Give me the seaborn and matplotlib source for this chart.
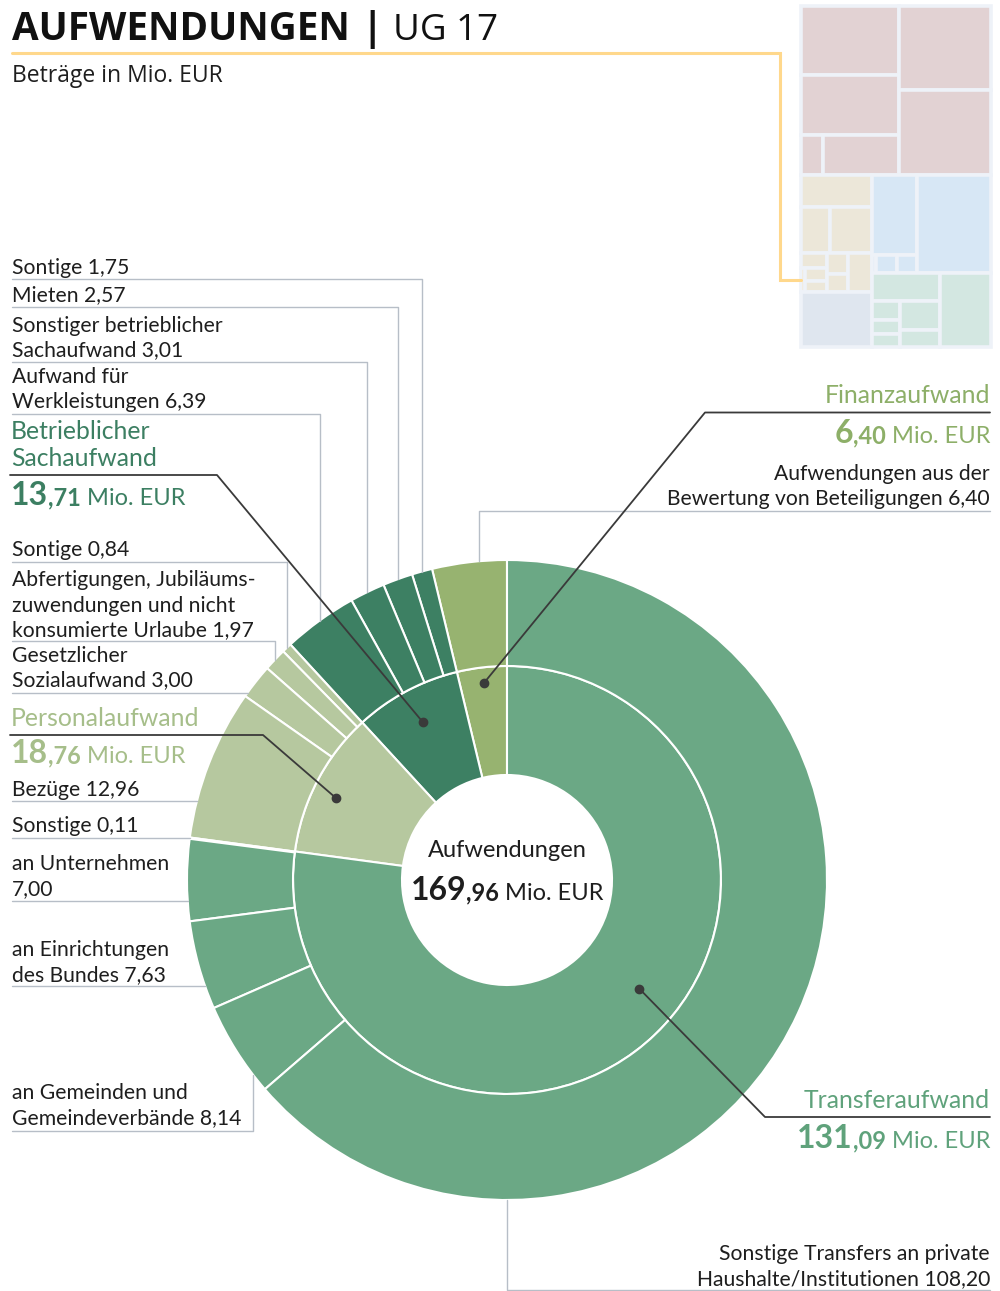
import numpy as np
import matplotlib
matplotlib.use("Agg")
import matplotlib.pyplot as plt
import seaborn as sns
from matplotlib.patches import Rectangle

sns.set_theme(style="white")
FONT = ["Lato", "DejaVu Sans"]
plt.rcParams["font.family"] = FONT

# ---------------- data ----------------
categories = ["Finanzaufwand", "Betrieblicher\nSachaufwand", "Personalaufwand", "Transferaufwand"]
category_values = [6.40, 13.71, 18.76, 131.09]
total_value = 169.96

sub_labels = [
    "Aufwendungen aus der\nBewertung von Beteiligungen {}",
    "Sontige {}", "Mieten {}", "Sonstiger betrieblicher\nSachaufwand {}", "Aufwand für\nWerkleistungen {}",
    "Sontige {}", "Abfertigungen, Jubiläums-\nzuwendungen und nicht\nkonsumierte Urlaube {}",
    "Gesetzlicher\nSozialaufwand {}", "Bezüge {}",
    "Sonstige {}", "an Unternehmen\n{}", "an Einrichtungen\ndes Bundes {}",
    "an Gemeinden und\nGemeindeverbände {}", "Sonstige Transfers an private\nHaushalte/Institutionen {}",
]
sub_values = [6.40, 1.75, 2.57, 3.01, 6.39, 0.84, 1.97, 3.00, 12.96, 0.11, 7.00, 7.63, 8.14, 108.20]
sub_category = [0, 1, 1, 1, 1, 2, 2, 2, 2, 3, 3, 3, 3, 3]

# overview treemap of all budget chapters (cell values), UG 17 marked "hl"
tm_g1 = ("h", [("v", [6762, 5880, ("h", [880, 3040])]), ("v", [7728, 7820])])
tm_g2 = ("v", [2256, ("h", [1334, 1909]),
               ("h", [("v", [383, ("h", [("hl", 96), ("v", [280, 237])])]), ("v", [441, 378]), 936])])
tm_g3 = ("h", [("v", [3640, ("h", [81, 369, 369])]), 7252])
tm_g4 = ("h", [("v", [1918, ("h", [("v", [542, 399, 371]), ("v", [1160, 680])])]), 3774])
tm_g5 = 3878
tm_colors = ["#E2D2D3", "#ECE7D9", "#D7E7F5", "#D3E7E1", "#DFE6EF"]

# ---------------- style ----------------
cat_colors = ["#97B370", "#3D8063", "#B6C89F", "#6BA885"]
cat_text = ["#8DAF68", "#3C7F62", "#A6BE8A", "#5FA27B"]
DARK = "#1E1E1E"
LINE = "#3A3A3A"
GREY = "#B7BEC7"
YELLOW = "#FFD88C"

CX, CY = 507, 880
R_OUT, R_MID, R_IN = 320, 214, 105

fig = plt.figure(figsize=(10, 12.91), dpi=100)
ax = fig.add_axes([0, 0, 1, 1])


def de(v):
    return f"{v:.2f}".replace(".", ",")


def text_run(x, y, parts, ha="left", family=None):
    rend = fig.canvas.get_renderer()
    items = []
    for txt, size, weight, color, gap in parts:
        t = ax.text(0, y, txt, fontsize=size, fontweight=weight, color=color,
                    va="baseline", ha="left", family=family or FONT)
        items.append((t, t.get_window_extent(rend).width, gap))
    total = sum(w + g for _, w, g in items)
    cur = {"left": x, "right": x - total, "center": x - total / 2}[ha]
    for t, w, g in items:
        cur += g
        t.set_x(cur)
        cur += w


# ---------------- donut ----------------
wp = dict(edgecolor="white", linewidth=1.5)
inner, _ = ax.pie(category_values, radius=R_MID, center=(CX, CY), startangle=-90,
                  counterclock=False, colors=cat_colors,
                  wedgeprops=dict(width=R_MID - R_IN, **wp))
outer, _ = ax.pie(sub_values, radius=R_OUT, center=(CX, CY), startangle=-90,
                  counterclock=False, colors=[cat_colors[c] for c in sub_category],
                  wedgeprops=dict(width=R_OUT - R_MID, **wp))


def polar(wedge, r, frac=0.5):
    a = np.deg2rad(wedge.theta2 - frac * (wedge.theta2 - wedge.theta1))
    return CX + r * np.cos(a), CY + r * np.sin(a)


def circle_y(x, lower):
    d = np.sqrt(max(R_OUT ** 2 - (x - CX) ** 2, 0))
    return CY + d if lower else CY - d


# outer labels: side, first baseline, underline y, leader
sub_layout = [
    ("R", 480, 510.5, ("x", 479)),
    ("L", 273.5, 279, ("mid",)),
    ("L", 301.5, 307, ("mid",)),
    ("L", 331.5, 361.5, ("mid",)),
    ("L", 383, 413.5, ("mid",)),
    ("L", 556.5, 561.5, ("mid",)),
    ("L", 586.5, 641, ("mid",)),
    ("L", 661.5, 692.5, ("h",)),
    ("L", 796.5, 801, ("h",)),
    ("L", 832.5, 837.5, ("h",)),
    ("L", 870.5, 901, ("h",)),
    ("L", 956, 985.5, ("h",)),
    ("L", 1099, 1130.5, ("x", 253)),
    ("R", 1260, 1290, ("x", CX)),
]

for i, (side, y0, yu, lead) in enumerate(sub_layout):
    lines = sub_labels[i].format(de(sub_values[i])).split("\n")
    xt = 12 if side == "L" else 990
    for k, ln in enumerate(lines):
        ax.text(xt, y0 + 25 * k, ln, fontsize=15.2, color=DARK, va="baseline",
                ha="left" if side == "L" else "right")
    lower = yu > CY
    if lead[0] == "h":
        xe = CX - np.sqrt(R_OUT ** 2 - (yu - CY) ** 2)
        ax.plot([xt, xe], [yu, yu], color=GREY, lw=1.0, zorder=1)
        continue
    if lead[0] == "mid":
        xe, ye = polar(outer[i], R_OUT)
    else:
        xe = lead[1]
        ye = circle_y(xe, lower)
    ax.plot([xt, xe, xe], [yu, yu, ye], color=GREY, lw=1.0, zorder=1)

# category labels: side, name baselines, underline y, elbow x, number baseline, dot radius, dot frac
cat_layout = [
    ("R", [403], 412.5, 705, 443, 198, 0.5),
    ("L", [439, 466.5], 475, 217, 505, 179, 0.5),
    ("L", [726], 735, 263, 763, 189, 0.55),
    ("R", [1108], 1117, 765, 1148, 171, 0.534),
]

for i, (side, ys, yu, xel, yn, rd, fr) in enumerate(cat_layout):
    xt = 11 if side == "L" else 990
    ha = "left" if side == "L" else "right"
    for ln, yy in zip(categories[i].split("\n"), ys):
        ax.text(xt, yy, ln, fontsize=17.8, color=cat_text[i], va="baseline", ha=ha)
    ip, fp = de(category_values[i]).split(",")
    text_run(xt, yn, [(ip, 23, "bold", cat_text[i], 0),
                      ("," + fp, 17, "bold", cat_text[i], 0),
                      ("Mio. EUR", 17, "normal", cat_text[i], 6)], ha=ha)
    dx, dy = polar(inner[i], rd, fr)
    x0 = 10 if side == "L" else 990
    ax.plot([x0, xel, dx], [yu, yu, dy], color=LINE, lw=1.3, zorder=5)
    ax.plot(dx, dy, "o", ms=6, color=LINE, zorder=6)

# centre
ax.text(CX, 857, "Aufwendungen", fontsize=17, color=DARK, ha="center", va="baseline")
ip, fp = de(total_value).split(",")
text_run(CX, 900, [(ip, 23, "bold", DARK, 0), ("," + fp, 17, "bold", DARK, 0),
                   ("Mio. EUR", 17, "normal", DARK, 6)], ha="center")

# ---------------- title ----------------
text_run(12, 40, [("AUFWENDUNGEN", 27.8, "bold", "#111111", 0),
                  ("|", 27.8, "bold", "#111111", 11),
                  ("UG 17", 26.5, "normal", "#111111", 11)],
         family=["Open Sans", "DejaVu Sans"])
ax.text(12, 82, "Beträge in Mio. EUR", fontsize=16.5, color=DARK, va="baseline",
        family=["Open Sans", "DejaVu Sans"])

# ---------------- treemap ----------------
TM = (801, 6, 991, 347)
hl_box = []


def node_sum(n):
    if isinstance(n, (int, float)):
        return n
    if n[0] == "hl":
        return n[1]
    return sum(node_sum(c) for c in n[1])


def draw_tm(n, x0, y0, x1, y1, color):
    if isinstance(n, (int, float)) or n[0] == "hl":
        is_hl = not isinstance(n, (int, float))
        ax.add_patch(Rectangle((x0, y0), x1 - x0, y1 - y0,
                               facecolor=YELLOW if is_hl else color,
                               edgecolor="#EEF2F8", lw=2.6, zorder=2))
        if is_hl:
            hl_box.append((x0, y0, x1, y1))
        return
    tot = node_sum(n)
    pos = 0
    for c in n[1]:
        s = node_sum(c) / tot
        if n[0] == "h":
            a, b = x0 + pos * (x1 - x0), x0 + (pos + s) * (x1 - x0)
            draw_tm(c, a, y0, b, y1, color)
        else:
            a, b = y0 + pos * (y1 - y0), y0 + (pos + s) * (y1 - y0)
            draw_tm(c, x0, a, x1, b, color)
        pos += s


top = node_sum(tm_g1)
left_b = node_sum(tm_g2) + tm_g5
right_b = node_sum(tm_g3) + node_sum(tm_g4)
grand = top + left_b + right_b
ysplit = TM[1] + (TM[3] - TM[1]) * top / grand
xsplit = TM[0] + (TM[2] - TM[0]) * left_b / (left_b + right_b)
y2 = ysplit + (TM[3] - ysplit) * node_sum(tm_g2) / left_b
y3 = ysplit + (TM[3] - ysplit) * node_sum(tm_g3) / right_b
draw_tm(tm_g1, TM[0], TM[1], TM[2], ysplit, tm_colors[0])
draw_tm(tm_g2, TM[0], ysplit, xsplit, y2, tm_colors[1])
draw_tm(tm_g5, TM[0], y2, xsplit, TM[3], tm_colors[4])
draw_tm(tm_g3, xsplit, ysplit, TM[2], y3, tm_colors[2])
draw_tm(tm_g4, xsplit, y3, TM[2], TM[3], tm_colors[3])

hx0, hy0, hx1, hy1 = hl_box[0]
ax.plot([12, 780, 780, hx0], [53, 53, (hy0 + hy1) / 2, (hy0 + hy1) / 2],
        color=YELLOW, lw=2.2, zorder=3, solid_joinstyle="miter")

ax.set_xlim(0, 1000)
ax.set_ylim(1291, 0)
ax.set_aspect("equal")
ax.axis("off")
fig.savefig("out.png", dpi=100, facecolor="white")
